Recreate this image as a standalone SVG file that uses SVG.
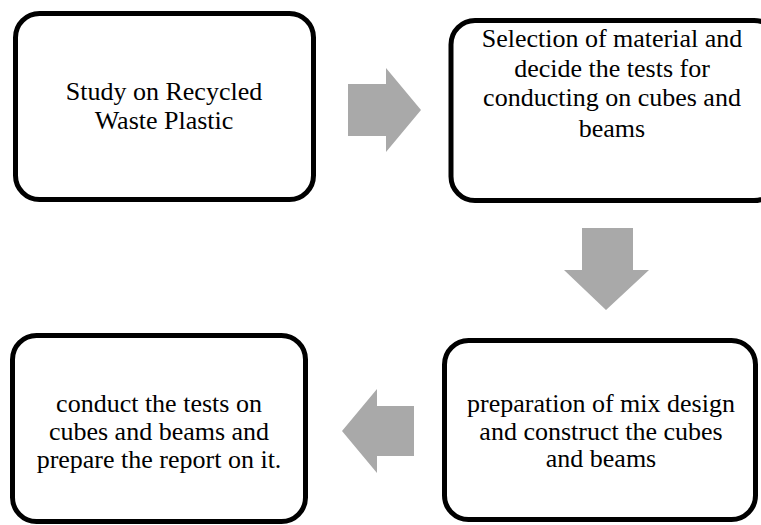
<svg xmlns="http://www.w3.org/2000/svg" width="761" height="525" viewBox="0 0 761 525">
<style>
.box{fill:#fff;stroke:#000;stroke-width:5}
.t{font-family:"Liberation Serif","Times New Roman",serif;font-size:26px;fill:#000;text-anchor:middle}
.arr{fill:#a9a9a9;stroke:none}
</style>
<rect width="761" height="525" fill="#fff"/>
<g id="node1">
<rect class="box" x="15.5" y="13.5" width="298" height="186" rx="24"/>
<text class="t" x="164" y="100">Study on Recycled</text>
<text class="t" x="164" y="128.5">Waste Plastic</text>
</g>
<g id="node2">
<rect class="box" x="451" y="20.5" width="327" height="180" rx="24"/>
<text class="t" x="612" y="47">Selection of material and</text>
<text class="t" x="612" y="76.5">decide the tests for</text>
<text class="t" x="612" y="106">conducting on cubes and</text>
<text class="t" x="612" y="136.5">beams</text>
</g>
<g id="node3">
<rect class="box" x="444.5" y="340.5" width="311" height="179" rx="24"/>
<text class="t" x="601" y="411.5">preparation of mix design</text>
<text class="t" x="601" y="439.5">and construct the cubes</text>
<text class="t" x="601" y="467">and beams</text>
</g>
<g id="node4">
<rect class="box" x="12.5" y="335.5" width="293" height="186" rx="24"/>
<text class="t" x="159" y="412">conduct the tests on</text>
<text class="t" x="159" y="440">cubes and beams and</text>
<text class="t" x="159" y="468">prepare the report on it.</text>
</g>
<g id="connectors">
<polygon class="arr" points="348,84 386,84 386,68 421,110 386,152 386,136 348,136"/>
<polygon class="arr" points="582,228 633,228 633,270 649,270 606,310 564,270 582,270"/>
<polygon class="arr" points="414,406 377,406 377,389 342,431 377,473 377,456 414,456"/>
</g>
</svg>
